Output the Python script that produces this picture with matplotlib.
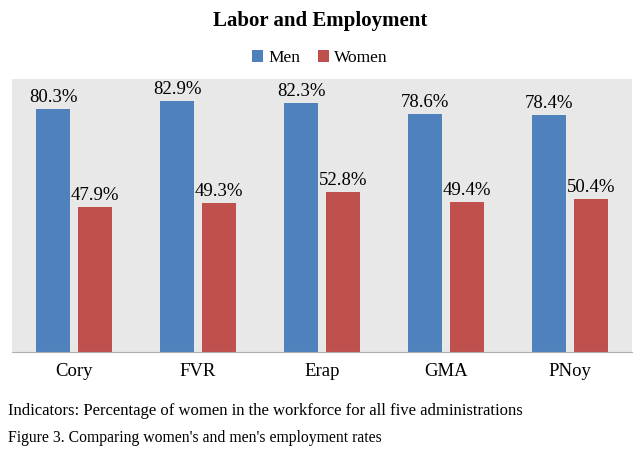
import numpy as np
import matplotlib.pyplot as plt

# Data
admins = ["Cory", "FVR", "Erap", "GMA", "PNoy"]
men = [80.3, 82.9, 82.3, 78.6, 78.4]
women = [47.9, 49.3, 52.8, 49.4, 50.4]

blue = "#4F81BD"
red = "#C0504D"

plt.rcParams["font.family"] = ["Liberation Serif", "DejaVu Serif"]

fig = plt.figure(figsize=(6.4, 4.53), dpi=100)
fig.patch.set_facecolor("white")

# plot area in pixel terms: x 12-632, y 79-352 (from top)
ax = fig.add_axes([12 / 640, 1 - 352 / 453, 620 / 640, 273 / 453])
ax.set_facecolor("#E8E8E8")

x = np.arange(len(admins))
w = 0.274
off = 0.169
b1 = ax.bar(x - off, men, w, color=blue, label="Men")
b2 = ax.bar(x + off, women, w, color=red, label="Women")

for bars in (b1, b2):
    for b in bars:
        ax.text(b.get_x() + b.get_width() / 2, b.get_height() + 1.0,
                f"{b.get_height():.1f}%", ha="center", va="bottom", fontsize=13.5)

ax.set_xlim(-0.5, len(admins) - 0.5)
ax.set_ylim(0, 90.2)
ax.set_yticks([])
ax.set_xticks(x)
ax.set_xticklabels(admins, fontsize=13.5)
ax.tick_params(axis="x", length=0, pad=8)
for s in ["top", "right", "left"]:
    ax.spines[s].set_visible(False)
ax.spines["bottom"].set_color("#B0B0B0")

fig.text(0.5, 1 - 21 / 453, "Labor and Employment", ha="center", va="center",
         fontsize=15, fontweight="bold")

fig.legend(handles=[b1, b2], labels=["Men", "Women"], loc="center",
           bbox_to_anchor=(0.5, 1 - 58 / 453), ncol=2, frameon=False,
           fontsize=12.5, handlelength=0.65, handleheight=0.65,
           handletextpad=0.3, columnspacing=1.0)

fig.text(8 / 640, 1 - 411 / 453,
         "Indicators: Percentage of women in the workforce for all five administrations",
         ha="left", va="center", fontsize=12)
fig.text(8 / 640, 1 - 438 / 453,
         "Figure 3. Comparing women's and men's employment rates",
         ha="left", va="center", fontsize=11.3)

fig.savefig("out.png", dpi=100)
